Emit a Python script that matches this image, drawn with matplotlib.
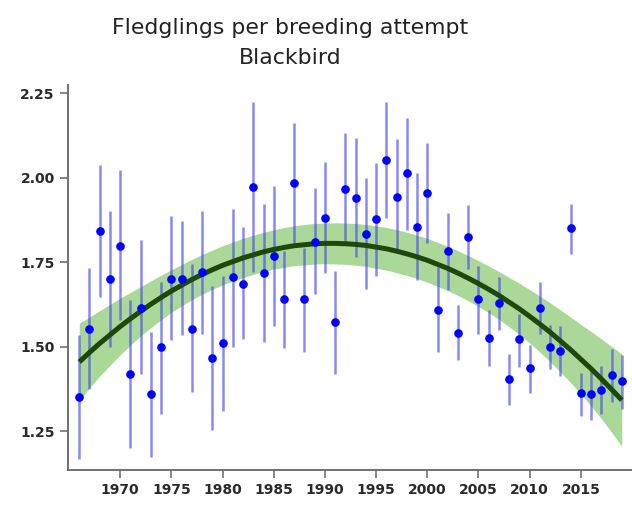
import numpy as np
import matplotlib
matplotlib.use("Agg")
import matplotlib.pyplot as plt

years = np.arange(1966, 2020)

# yearly mean fledglings per breeding attempt, with 95% limits
means = [1.352, 1.553, 1.843, 1.700, 1.798, 1.419, 1.616, 1.360, 1.498, 1.702,
         1.702, 1.553, 1.720, 1.468, 1.510, 1.705, 1.687, 1.973, 1.719, 1.769,
         1.640, 1.985, 1.640, 1.809, 1.882, 1.572, 1.967, 1.941, 1.835, 1.878,
         2.052, 1.944, 2.013, 1.855, 1.954, 1.610, 1.783, 1.542, 1.825, 1.641,
         1.527, 1.630, 1.403, 1.522, 1.436, 1.615, 1.500, 1.488, 1.853, 1.362,
         1.359, 1.373, 1.416, 1.398]
lower = [1.169, 1.376, 1.648, 1.500, 1.579, 1.199, 1.419, 1.174, 1.302, 1.519,
         1.534, 1.366, 1.539, 1.253, 1.310, 1.500, 1.522, 1.722, 1.513, 1.561,
         1.495, 1.806, 1.485, 1.655, 1.717, 1.418, 1.803, 1.766, 1.670, 1.709,
         1.880, 1.778, 1.847, 1.697, 1.808, 1.485, 1.667, 1.460, 1.729, 1.537,
         1.442, 1.551, 1.327, 1.440, 1.362, 1.537, 1.433, 1.413, 1.776, 1.294,
         1.283, 1.302, 1.337, 1.317]
upper = [1.534, 1.732, 2.038, 1.902, 2.023, 1.638, 1.816, 1.544, 1.692, 1.887,
         1.872, 1.744, 1.901, 1.679, 1.709, 1.909, 1.855, 2.225, 1.922, 1.975,
         1.783, 2.163, 1.791, 1.969, 2.047, 1.725, 2.133, 2.117, 2.000, 2.044,
         2.225, 2.114, 2.178, 2.015, 2.102, 1.737, 1.896, 1.623, 1.919, 1.739,
         1.610, 1.707, 1.478, 1.598, 1.505, 1.692, 1.564, 1.561, 1.924, 1.423,
         1.431, 1.442, 1.494, 1.475]

# smoothed trend and half-width of its confidence band
trend = [1.455, 1.483, 1.510, 1.535, 1.560, 1.583, 1.605, 1.626, 1.646, 1.665,
         1.682, 1.699, 1.714, 1.728, 1.741, 1.752, 1.763, 1.772, 1.781, 1.788,
         1.794, 1.799, 1.802, 1.805, 1.806, 1.806, 1.805, 1.803, 1.800, 1.795,
         1.790, 1.783, 1.775, 1.766, 1.756, 1.744, 1.732, 1.718, 1.703, 1.687,
         1.670, 1.652, 1.632, 1.612, 1.590, 1.567, 1.543, 1.517, 1.491, 1.463,
         1.435, 1.405, 1.374, 1.342]
band_half = [0.115, 0.105, 0.097, 0.090, 0.084, 0.078, 0.073, 0.069, 0.066, 0.063,
             0.061, 0.060, 0.059, 0.058, 0.058, 0.058, 0.058, 0.058, 0.058, 0.058,
             0.059, 0.059, 0.060, 0.060, 0.060, 0.061, 0.061, 0.062, 0.062, 0.063,
             0.063, 0.064, 0.064, 0.064, 0.065, 0.065, 0.066, 0.066, 0.067, 0.068,
             0.069, 0.071, 0.073, 0.076, 0.079, 0.083, 0.087, 0.092, 0.097, 0.103,
             0.110, 0.118, 0.127, 0.137]

x_ticks = [1970, 1975, 1980, 1985, 1990, 1995, 2000, 2005, 2010, 2015]
y_ticks = [1.25, 1.50, 1.75, 2.00, 2.25]

means = np.array(means)
trend = np.array(trend)
band_half = np.array(band_half)

fig = plt.figure(figsize=(6.32, 5.05), dpi=100)
ax = fig.add_axes([0.1076, 0.0693, 0.8924, 0.7624])

ax.fill_between(years, trend - band_half, trend + band_half,
                color="#aad898", linewidth=0, zorder=1)
ax.vlines(years, lower, upper, color="#3b3bf0", alpha=0.6, linewidth=1.8, zorder=2)
ax.plot(years, trend, color="#1c4808", linewidth=3.6, solid_capstyle="butt", zorder=3)
ax.plot(years, means, "o", color="#0000ff", markersize=5.2, zorder=4)

ax.set_xlim(1964.9, 2020.0)
ax.set_ylim(1.135, 2.275)
ax.set_xticks(x_ticks)
ax.set_yticks(y_ticks)
ax.set_yticklabels([f"{v:.2f}" for v in y_ticks])

for side in ("top", "right"):
    ax.spines[side].set_visible(False)
for side in ("left", "bottom"):
    ax.spines[side].set_color("#666666")
    ax.spines[side].set_linewidth(1.3)

ax.tick_params(axis="both", direction="out", length=6, width=1.1, color="#666666",
               labelcolor="#2a2a2a", labelsize=10)
for lbl in ax.get_xticklabels() + ax.get_yticklabels():
    lbl.set_fontweight("bold")

fig.text(0.459, 0.944, "Fledglings per breeding attempt", ha="center", va="center",
         fontsize=15.8, color="#222222")
fig.text(0.459, 0.886, "Blackbird", ha="center", va="center",
         fontsize=15.8, color="#222222")

fig.savefig("out.png", dpi=100)
